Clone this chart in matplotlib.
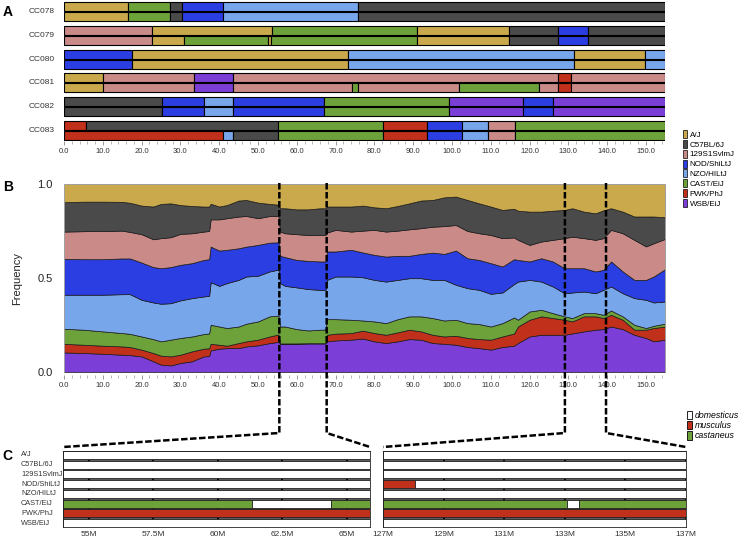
import numpy as np
import matplotlib
matplotlib.use("Agg")
import matplotlib.pyplot as plt
from matplotlib.patches import Patch
from matplotlib.lines import Line2D
from matplotlib.ticker import MultipleLocator
import matplotlib.transforms as mtrans

W, H = 739, 539
plt.rcParams['font.family'] = ['Liberation Sans', 'DejaVu Sans']
NARROW = ['Liberation Sans Narrow', 'Liberation Sans']

# founders (CC letter codes A-H) and colours
founders = ['A/J', 'C57BL/6J', '129S1SvlmJ', 'NOD/ShiLtJ', 'NZO/HILtJ',
            'CAST/EiJ', 'PWK/PhJ', 'WSB/EiJ']
codes = 'ABCDEFGH'
fcolors = ['#c9a94b', '#4a4a4a', '#c98a88', '#2b3ee2', '#78a6ea',
           '#6da23a', '#c0301a', '#7b3fd8']
col = dict(zip(codes, fcolors))

CHR_END = 154.9

# ---- panel A: haplotype mosaics (segment ends in Mb, founder codes)
cc_lines = ['CC078', 'CC079', 'CC080', 'CC081', 'CC082', 'CC083']
cc078_h1 = ([16.6, 27.3, 30.3, 40.9, 75.9, CHR_END], 'AFBDEB')
cc078_h2 = ([16.6, 27.3, 30.3, 40.9, 75.9, CHR_END], 'AFBDEB')
cc079_h1 = ([22.8, 53.5, 91.1, 114.7, 127.4, 135.1, CHR_END], 'CAFABDB')
cc079_h2 = ([22.8, 31.0, 52.5, 53.4, 91.1, 114.7, 127.4, 135.1, CHR_END], 'CAFAFABDB')
cc080_h1 = ([17.4, 73.3, 131.5, 149.7, CHR_END], 'DAEAE')
cc080_h2 = ([17.4, 73.3, 131.5, 149.7, CHR_END], 'DAEAE')
cc081_h1 = ([10.1, 33.6, 43.5, 127.4, 130.7, CHR_END], 'ACHCGC')
cc081_h2 = ([10.1, 33.6, 43.5, 74.3, 75.9, 101.7, 122.4, 127.4, 130.7, CHR_END], 'ACHCFCFCGC')
cc082_h1 = ([25.3, 36.2, 43.6, 67.1, 99.3, 118.4, 126.1, CHR_END], 'BDEDFHDH')
cc082_h2 = ([25.3, 36.2, 43.6, 67.1, 99.3, 118.4, 126.1, CHR_END], 'BDEDFHDH')
cc083_h1 = ([5.6, 55.1, 82.3, 93.5, 102.7, 109.2, 116.2, CHR_END], 'GBFGDECF')
cc083_h2 = ([40.9, 43.6, 55.1, 82.3, 93.5, 102.7, 109.2, 116.2, CHR_END], 'GEBFGDECF')
haplos = [(cc078_h1, cc078_h2), (cc079_h1, cc079_h2), (cc080_h1, cc080_h2),
          (cc081_h1, cc081_h2), (cc082_h1, cc082_h2), (cc083_h1, cc083_h2)]

# ---- panel B: cumulative founder frequency (top edge of each layer)
pos_mb = [0, 5, 10, 15, 17, 20, 23, 25, 27.5, 30,
          33, 36, 37.4, 37.8, 40, 42, 45, 47, 50, 53,
          55.3, 55.7, 57, 60, 63, 66, 67.4, 67.8, 70, 74,
          77, 80, 83, 86, 89, 92, 95, 98, 101, 104,
          107, 110, 113, 116, 117, 120, 123, 126, 129, 131,
          134, 137, 139, 141, 144, 147, 150, 152, CHR_END]
wsb_top = [.104, .101, .097, .092, .090, .083, .057, .039, .035, .048,
           .057, .083, .085, .115, .124, .127, .127, .136, .142, .154,
           .160, .150, .150, .150, .152, .152, .152, .163, .168, .172,
           .178, .163, .154, .163, .175, .172, .154, .150, .145, .133,
           .127, .119, .133, .140, .154, .189, .198, .198, .198, .205,
           .216, .225, .228, .242, .228, .198, .181, .163, .172]
pwk_top = [.150, .145, .140, .136, .133, .119, .101, .087, .083, .092,
           .110, .124, .126, .150, .145, .140, .154, .163, .172, .189,
           .200, .152, .152, .152, .153, .153, .153, .198, .204, .207,
           .220, .207, .198, .211, .225, .216, .198, .189, .193, .181,
           .175, .172, .189, .205, .242, .278, .296, .287, .278, .269,
           .296, .296, .287, .304, .278, .225, .225, .234, .242]
cast_top = [.230, .225, .216, .207, .203, .189, .175, .163, .172, .181,
            .189, .202, .205, .251, .242, .234, .242, .257, .269, .296,
            .300, .242, .242, .228, .221, .225, .226, .281, .281, .278,
            .274, .269, .260, .281, .296, .296, .287, .274, .278, .260,
            .255, .242, .260, .290, .278, .322, .331, .313, .296, .287,
            .313, .313, .304, .327, .296, .251, .234, .246, .257]
nzo_top = [.411, .411, .411, .414, .414, .384, .370, .363, .366, .381,
           .393, .402, .405, .478, .458, .473, .490, .508, .512, .535,
           .545, .473, .458, .450, .441, .437, .437, .490, .508, .508,
           .504, .490, .481, .490, .499, .499, .490, .490, .464, .446,
           .437, .416, .423, .468, .481, .490, .481, .455, .419, .423,
           .428, .419, .437, .455, .419, .393, .384, .370, .375]
nod_top = [.602, .600, .600, .604, .604, .582, .558, .552, .558, .570,
           .579, .596, .600, .667, .646, .650, .658, .667, .676, .688,
           .690, .618, .611, .596, .591, .588, .588, .641, .641, .650,
           .636, .623, .614, .618, .618, .628, .635, .628, .646, .605,
           .596, .579, .561, .600, .596, .588, .605, .588, .552, .552,
           .552, .535, .543, .588, .535, .490, .490, .508, .547]
s129_top = [.747, .749, .750, .752, .745, .733, .706, .712, .717, .735,
            .738, .747, .750, .812, .812, .818, .827, .830, .818, .830,
            .830, .747, .738, .733, .729, .729, .729, .742, .756, .747,
            .752, .756, .747, .752, .759, .765, .773, .776, .782, .750,
            .738, .729, .712, .716, .703, .676, .694, .703, .712, .720,
            .712, .703, .712, .756, .738, .703, .668, .685, .708]
b6_top = [.903, .906, .906, .905, .900, .885, .880, .894, .897, .888,
          .883, .880, .880, .895, .880, .888, .912, .915, .901, .894,
          .890, .871, .871, .865, .865, .871, .871, .880, .880, .880,
          .885, .876, .871, .883, .897, .912, .915, .929, .933, .915,
          .897, .880, .862, .868, .858, .853, .853, .858, .862, .871,
          .853, .844, .860, .871, .853, .827, .827, .827, .823]
aj_top = [1.0] * len(pos_mb)

# zoomed windows marked on panel B (Mb)
zoom_marks = [55.5, 67.7, 129.1, 139.7]

# ---- panel C: subspecies origin in two windows
subsp = ['domesticus', 'musculus', 'castaneus']
scolors = {'dom': 'white', 'mus': '#c0301a', 'cas': '#6da23a'}
win1 = (54.0, 65.9)
win1_ticks = [55, 57.5, 60, 62.5, 65]
win1_segs = {'CAST/EiJ': ([54.0, 61.33, 64.37, 65.9], ['cas', 'dom', 'cas']),
             'PWK/PhJ': ([54.0, 65.9], ['mus'])}
win2 = (127.0, 137.0)
win2_ticks = [127, 129, 131, 133, 135, 137]
win2_segs = {'NOD/ShiLtJ': ([127.0, 128.07, 137.0], ['mus', 'dom']),
             'CAST/EiJ': ([127.0, 133.07, 133.47, 137.0], ['cas', 'dom', 'cas']),
             'PWK/PhJ': ([127.0, 137.0], ['mus'])}


def box(l, t, r, b):
    return [l / W, 1 - b / H, (r - l) / W, (b - t) / H]


fig = plt.figure(figsize=(W / 100, H / 100), dpi=100)

# ================= A
axa = fig.add_axes(box(64, 0, 665, 141))
lab_tr = mtrans.blended_transform_factory(axa.transAxes, axa.transData)
for i, pair in enumerate(haplos):
    top = 2 + 23.8 * i
    for j, (ends, fs) in enumerate(pair):
        starts = [0] + ends[:-1]
        y = top + 10 * j + 4.5
        axa.barh([y] * len(ends), np.subtract(ends, starts), left=starts,
                 height=9, color=[col[c] for c in fs], edgecolor='black', lw=0.8)
    axa.text(-0.016, top + 9.5, cc_lines[i], transform=lab_tr,
             ha='right', va='center', fontsize=6, color='#333')
axa.set_xlim(0, CHR_END)
axa.set_ylim(141, 0)
for s in axa.spines.values():
    s.set_visible(False)
axa.set_yticks([])
axa.set_xticks(np.arange(0, 151, 10))
axa.set_xticklabels([f"{v:.1f}" for v in np.arange(0, 151, 10)])
axa.xaxis.set_minor_locator(MultipleLocator(2))
axa.tick_params(axis='x', which='major', length=3, width=0.6, color='#888',
                labelsize=5.5, labelcolor='#333', pad=2)
axa.tick_params(axis='x', which='minor', length=2, width=0.5, color='#999')

fig.legend([Patch(facecolor=c, edgecolor='black', lw=0.5) for c in fcolors],
           founders, loc='upper left', bbox_to_anchor=(683 / W, 1 - 130 / H),
           frameon=False, prop={'family': NARROW, 'size': 5.8}, handlelength=0.55,
           handleheight=1.15, labelspacing=0.14, handletextpad=0.3,
           borderpad=0, borderaxespad=0)

# ================= B
axb = fig.add_axes(box(64, 184, 665, 372))
layers = [wsb_top, pwk_top, cast_top, nzo_top, nod_top, s129_top, b6_top, aj_top]
lower = [0.0] * len(pos_mb)
for k, upper in enumerate(layers):
    axb.fill_between(pos_mb, lower, upper, facecolor=fcolors[7 - k],
                     edgecolor='#1a1a1a', lw=0.5)
    lower = upper
axb.set_xlim(0, CHR_END)
axb.set_ylim(0, 1.0)
axb.set_xticks(np.arange(0, 151, 10))
axb.set_xticklabels([f"{v:.1f}" for v in np.arange(0, 151, 10)])
axb.xaxis.set_minor_locator(MultipleLocator(2))
axb.spines['bottom'].set_position(('outward', 2.5))
axb.spines['bottom'].set_color('none')
for s in ['top', 'left', 'right']:
    axb.spines[s].set_color('#b0b0b0')
    axb.spines[s].set_linewidth(0.6)
axb.tick_params(axis='x', which='major', length=3, width=0.6, color='#888',
                labelsize=5.5, labelcolor='#333', pad=2)
axb.tick_params(axis='x', which='minor', length=2, width=0.5, color='#999')
axb.set_yticks([0, 0.5, 1.0])
axb.set_yticklabels(['0.0', '0.5', '1.0'])
axb.tick_params(axis='y', length=0, pad=8, labelsize=8, labelcolor='#222')
axb.set_ylabel('Frequency', fontsize=8, color='#222')
axb.yaxis.set_label_coords(-0.07, 0.5)


# ================= C
def draw_window(ax, win, segs, ticks, labels):
    ax.set_facecolor('#5a5a5a')
    for r, name in enumerate(founders):
        br, ss = segs.get(name, ([win[0], win[1]], ['dom']))
        ax.barh([r] * len(ss), np.diff(br), left=br[:-1], height=0.82,
                color=[scolors[s] for s in ss], edgecolor='#222', lw=0.6, zorder=2)
    ax.set_xlim(*win)
    ax.set_ylim(7.41, -0.41)
    ax.set_yticks([])
    ax.set_xticks(ticks)
    ax.set_xticklabels(labels)
    ax.grid(axis='x', color='black', lw=1.3, zorder=1)
    ax.set_axisbelow(True)
    ax.tick_params(axis='x', length=0, pad=3, labelsize=6, labelcolor='#333')
    for s in ax.spines.values():
        s.set_color('#222')
        s.set_linewidth(0.6)


axc1 = fig.add_axes(box(63, 451, 370, 527))
draw_window(axc1, win1, win1_segs, win1_ticks, ['55M', '57.5M', '60M', '62.5M', '65M'])
axc2 = fig.add_axes(box(383, 451, 686, 527))
draw_window(axc2, win2, win2_segs, win2_ticks, [f"{t}M" for t in win2_ticks])
bl = mtrans.blended_transform_factory(axc1.transAxes, axc1.transData)
for r, name in enumerate(founders):
    axc1.text(-42 / 307, r, name, transform=bl, ha='left', va='center',
              fontsize=5.3, family=NARROW, color='#333')

fig.legend([Patch(facecolor=scolors[k], edgecolor='black', lw=0.6) for k in ['dom', 'mus', 'cas']],
           subsp, loc='upper left', bbox_to_anchor=(687 / W, 1 - 411 / H), frameon=False,
           prop={'size': 6.3, 'style': 'italic'}, handlelength=0.55, handleheight=1.1,
           labelspacing=0.1, handletextpad=0.3, borderpad=0, borderaxespad=0)

# ================= dashed connectors B -> C
fig.canvas.draw()
inv = fig.transFigure.inverted()
knee_y = H - 433
corners = [axc1.transAxes.transform((0, 1)), axc1.transAxes.transform((1, 1)),
           axc2.transAxes.transform((0, 1)), axc2.transAxes.transform((1, 1))]
for m, cxy in zip(zoom_marks, corners):
    x0, y0 = axb.transData.transform((m, 1.0))
    pts = np.array([[x0, y0 + 1], [x0, knee_y], [cxy[0], cxy[1] + 4]])
    fpts = inv.transform(pts)
    fig.add_artist(Line2D(fpts[:, 0], fpts[:, 1], color='black', lw=1.8,
                          dashes=(2.6, 1.0), solid_capstyle='butt'))

for t, (x, y) in zip('ABC', [(8, 12), (8, 187), (7, 456)]):
    fig.text(x / W, 1 - y / H, t, fontsize=10, fontweight='bold', ha='center', va='center')

fig.savefig('out.png', dpi=100)
